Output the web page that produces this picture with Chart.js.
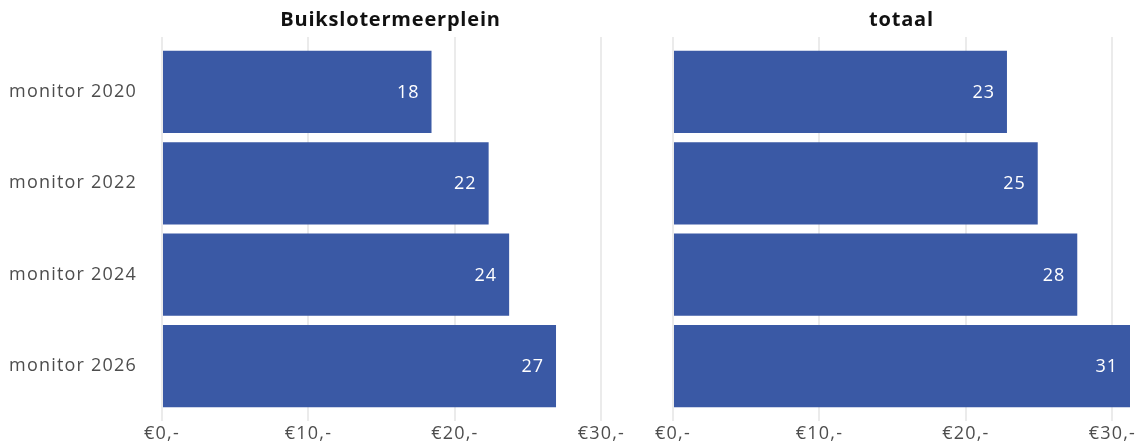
<!DOCTYPE html>
<html>
<head>
<meta charset="utf-8">
<script src="https://cdn.jsdelivr.net/npm/chart.js@4/dist/chart.umd.min.js"></script>
<style>
  html, body { margin: 0; padding: 0; background: #ffffff; }
  #wrap { position: relative; width: 1142px; height: 447px; overflow: hidden; }
  canvas { position: absolute; top: 0; }
</style>
</head>
<body>
<div id="wrap">
  <canvas id="left" width="640" height="447" style="left:0px"></canvas>
  <canvas id="right" width="502" height="447" style="left:640px"></canvas>
</div>
<script>
// ---- data ----
const categories = ['monitor 2020', 'monitor 2022', 'monitor 2024', 'monitor 2026'];
const panelTitles = ['Buikslotermeerplein', 'totaal'];
const buikslotermeerplein = [18.4, 22.3, 23.7, 26.9];
const totaal = [22.8, 24.9, 27.6, 31.2];
const xTickValues = [0, 10, 20, 30];
const xMax = 31.2;

// ---- styling ----
const FONT = '"Open Sans", "Noto Sans", sans-serif';
const BAR_COLOR = '#3a59a5';
const GRID_COLOR = '#ebebeb';
const LABEL_COLOR = '#4d4d4d';

const spacingPlugin = {
  id: 'letterSpacing',
  beforeLayout(chart) { chart.ctx.letterSpacing = '1.2px'; },
  beforeDraw(chart) { chart.ctx.letterSpacing = '1.2px'; }
};

const panelTitlePlugin = {
  id: 'panelTitle',
  afterDraw(chart, args, opts) {
    const { ctx, chartArea } = chart;
    ctx.save();
    ctx.letterSpacing = '0.8px';
    ctx.font = 'bold 20px ' + FONT;
    ctx.fillStyle = '#111111';
    ctx.textAlign = 'center';
    ctx.textBaseline = 'middle';
    ctx.fillText(opts.text, (chartArea.left + chartArea.right) / 2, 20);
    ctx.restore();
  }
};

const valueLabelPlugin = {
  id: 'valueLabels',
  afterDatasetsDraw(chart) {
    const { ctx } = chart;
    ctx.save();
    ctx.letterSpacing = '1px';
    ctx.font = '18px ' + FONT;
    ctx.fillStyle = '#ffffff';
    ctx.textAlign = 'right';
    ctx.textBaseline = 'middle';
    chart.data.datasets.forEach((ds, di) => {
      chart.getDatasetMeta(di).data.forEach((el, i) => {
        const v = ds.data[i].x;
        ctx.fillText(String(Math.round(v)), el.x - 12, el.y + 1);
      });
    });
    ctx.restore();
  }
};

function makeChart(id, values, title, showY, padding) {
  return new Chart(document.getElementById(id), {
    type: 'bar',
    data: {
      datasets: [{
        data: values.map((v, i) => ({ x: v, y: i })),
        backgroundColor: BAR_COLOR,
        borderWidth: 0,
        categoryPercentage: 1.0,
        barPercentage: 0.9
      }]
    },
    plugins: [spacingPlugin, panelTitlePlugin, valueLabelPlugin],
    options: {
      indexAxis: 'y',
      responsive: false,
      animation: false,
      devicePixelRatio: 1,
      layout: { padding: padding },
      plugins: {
        legend: { display: false },
        tooltip: { enabled: false },
        panelTitle: { text: title }
      },
      scales: {
        x: {
          type: 'linear',
          min: 0,
          max: xMax,
          offset: false,
          afterBuildTicks: (s) => { s.ticks = xTickValues.map(v => ({ value: v })); },
          afterFit: (s) => { s.height = 26; s.paddingLeft = 0; s.paddingRight = 0; },
          grid: { color: GRID_COLOR, lineWidth: 2, drawTicks: false, offset: false },
          border: { display: false },
          ticks: {
            padding: 2,
            color: LABEL_COLOR,
            font: { family: FONT, size: 18 },
            callback: (v) => '€' + v + ',-',
            maxRotation: 0
          }
        },
        y: {
          type: 'linear',
          min: -0.6,
          max: 3.6,
          reverse: true,
          offset: false,
          display: showY,
          afterBuildTicks: (s) => { s.ticks = categories.map((c, i) => ({ value: i })); },
          afterFit: (s) => {
            if (showY) s.width = 162;
            s.paddingTop = 0; s.paddingBottom = 0;
          },
          grid: { display: false, drawTicks: false, offset: false },
          border: { display: false },
          ticks: {
            padding: 25,
            color: LABEL_COLOR,
            font: { family: FONT, size: 18 },
            callback: (v) => categories[v] !== undefined ? categories[v] : ''
          }
        }
      }
    }
  });
}

makeChart('left', buikslotermeerplein, panelTitles[0], true, { top: 37, right: 21, bottom: 0, left: 0 });
makeChart('right', totaal, panelTitles[1], false, { top: 37, right: 12, bottom: 0, left: 33 });
</script>
</body>
</html>
